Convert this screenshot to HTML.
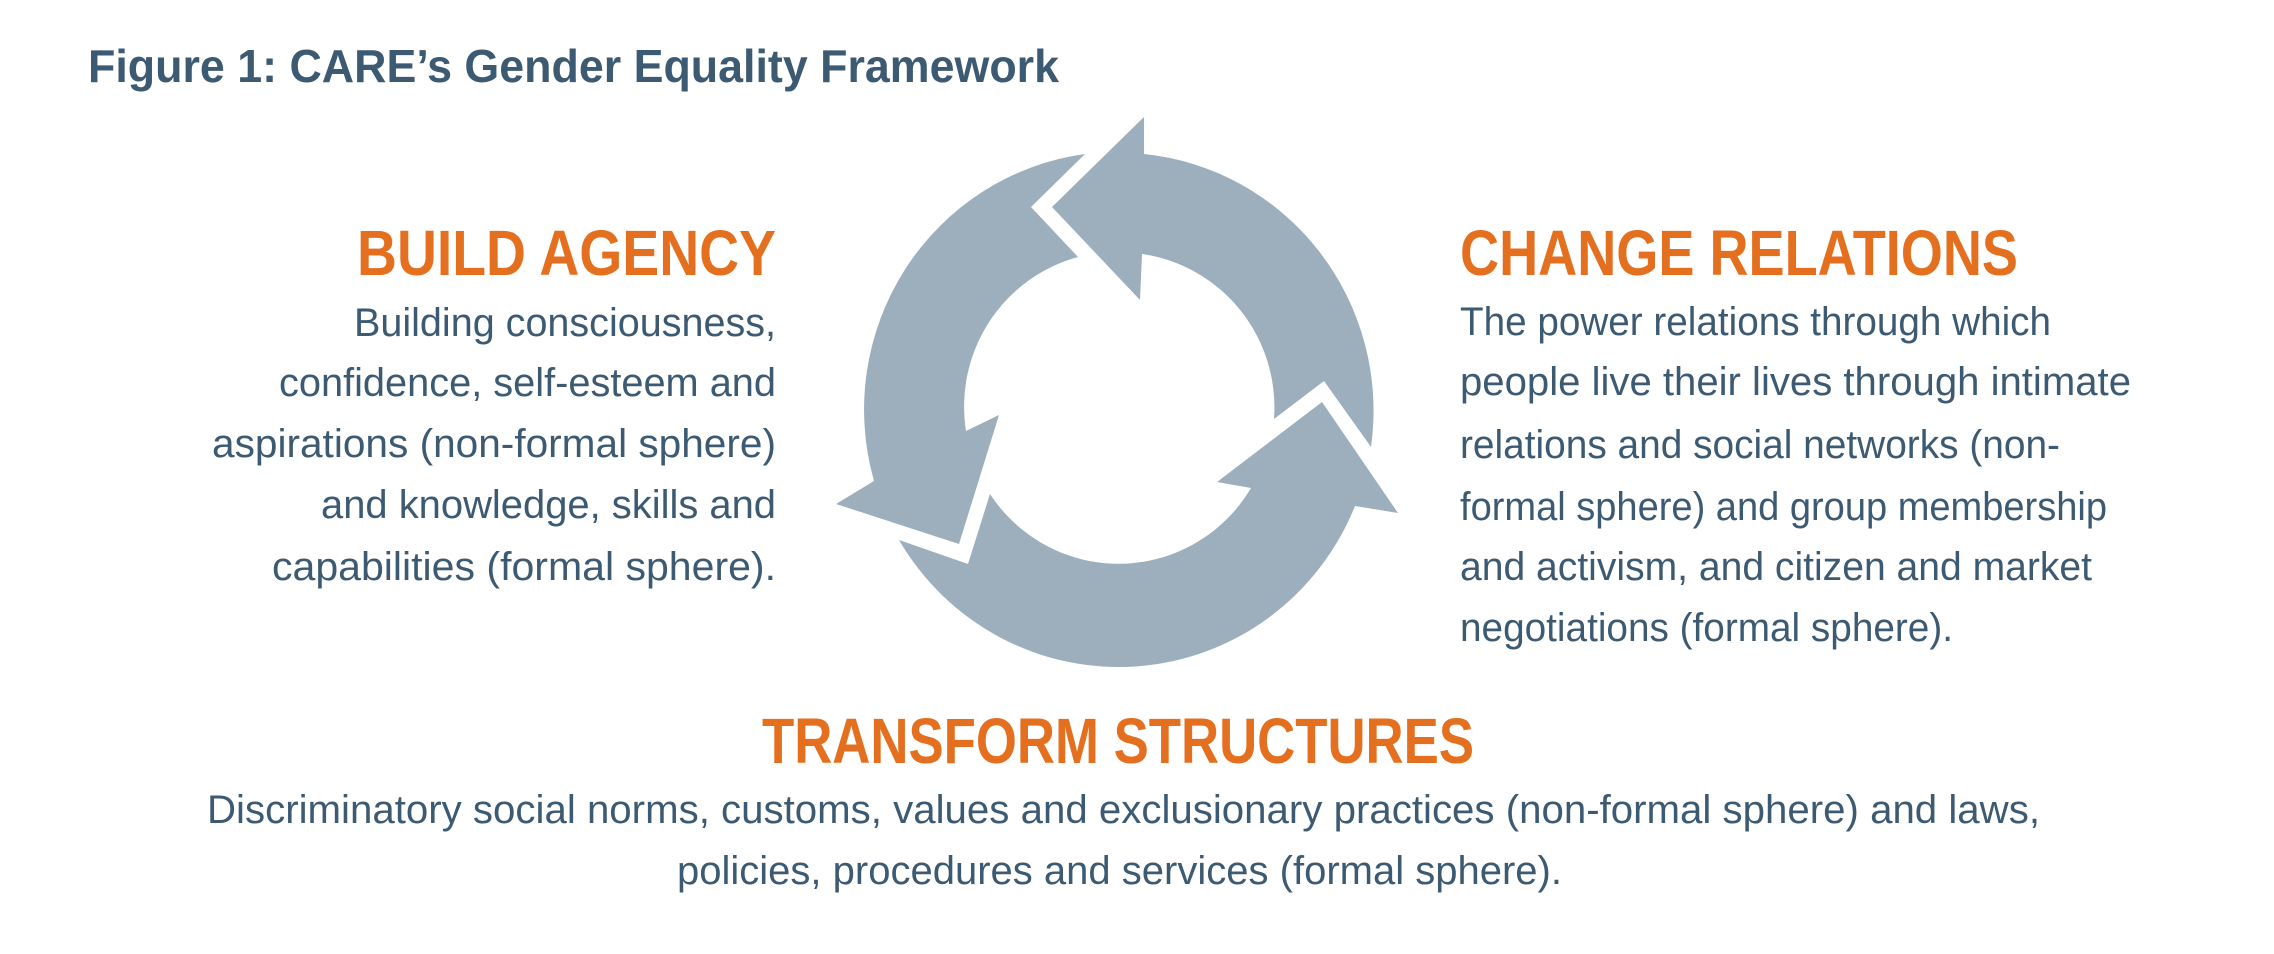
<!DOCTYPE html>
<html><head><meta charset="utf-8"><style>
html,body{margin:0;padding:0;background:#fff;width:2274px;height:954px;overflow:hidden}
svg{display:block}
text{font-family:"Liberation Sans Narrow","Liberation Sans",sans-serif}
.b{fill:#3d5a73;font-size:40px}
.h{fill:#e46f1f;font-size:64px;font-weight:bold}
</style></head><body>
<svg width="2274" height="954" viewBox="0 0 2274 954" xmlns="http://www.w3.org/2000/svg">
<g fill="#9daebd">
<path d="M1144,117 L1144,154 A255,258 0 0 1 1371,447 L1324,381 L1274,419 A154,155 0 0 0 1142,254 L1140,300 L1052,207 Z"/>
<path d="M1085,154 L1031,207 L1078,257 A154,155 0 0 0 966,431 L999,415 L959,544 L836,504 L874,481 A255,258 0 0 1 1085,154 Z"/>
<path d="M1398,513 L1322,402 L1217,482 L1251,488 A154,155 0 0 1 990,494 L968,564 L899,540 A255,258 0 0 0 1355,506 Z"/>
</g>
<text x="88" y="82" fill="#3d5a73" font-size="46" font-weight="bold" textLength="971" lengthAdjust="spacingAndGlyphs">Figure 1: CARE’s Gender Equality Framework</text>

<text class="h" x="357" y="275" textLength="419" lengthAdjust="spacingAndGlyphs">BUILD AGENCY</text>
<text class="b" x="354" y="336" textLength="422" lengthAdjust="spacingAndGlyphs">Building consciousness,</text>
<text class="b" x="279" y="396" textLength="497" lengthAdjust="spacingAndGlyphs">confidence, self-esteem and</text>
<text class="b" x="212" y="457" textLength="564" lengthAdjust="spacingAndGlyphs">aspirations (non-formal sphere)</text>
<text class="b" x="321" y="518" textLength="455" lengthAdjust="spacingAndGlyphs">and knowledge, skills and</text>
<text class="b" x="272" y="580" textLength="504" lengthAdjust="spacingAndGlyphs">capabilities (formal sphere).</text>

<text class="h" x="1460" y="275" textLength="558" lengthAdjust="spacingAndGlyphs">CHANGE RELATIONS</text>
<text class="b" x="1460" y="335" textLength="591" lengthAdjust="spacingAndGlyphs">The power relations through which</text>
<text class="b" x="1460" y="395" textLength="671" lengthAdjust="spacingAndGlyphs">people live their lives through intimate</text>
<text class="b" x="1460" y="458" textLength="600" lengthAdjust="spacingAndGlyphs">relations and social networks (non-</text>
<text class="b" x="1460" y="520" textLength="647" lengthAdjust="spacingAndGlyphs">formal sphere) and group membership</text>
<text class="b" x="1460" y="580" textLength="632" lengthAdjust="spacingAndGlyphs">and activism, and citizen and market</text>
<text class="b" x="1460" y="641" textLength="493" lengthAdjust="spacingAndGlyphs">negotiations (formal sphere).</text>

<text class="h" x="762" y="763" textLength="712" lengthAdjust="spacingAndGlyphs">TRANSFORM STRUCTURES</text>
<text class="b" x="207" y="823" textLength="1833" lengthAdjust="spacingAndGlyphs">Discriminatory social norms, customs, values and exclusionary practices (non-formal sphere) and laws,</text>
<text class="b" x="677" y="884" textLength="885" lengthAdjust="spacingAndGlyphs">policies, procedures and services (formal sphere).</text>
</svg>
</body></html>
